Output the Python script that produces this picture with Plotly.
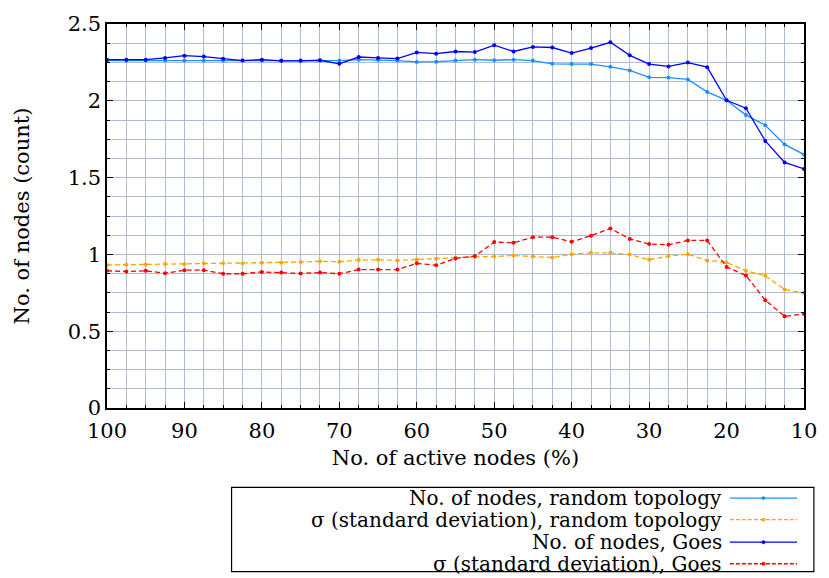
import plotly.graph_objects as go

# Share of active nodes (%) from 100 down to 10 in 2.5 % steps
active_pct = [100 - 2.5 * i for i in range(37)]

nodes_random = [2.262, 2.262, 2.262, 2.263, 2.262, 2.263, 2.262, 2.262, 2.263, 2.262,
                2.262, 2.263, 2.262, 2.268, 2.266, 2.262, 2.253, 2.255, 2.262, 2.268,
                2.264, 2.268, 2.262, 2.241, 2.239, 2.239, 2.221, 2.198, 2.153, 2.151,
                2.139, 2.058, 2.003, 1.907, 1.841, 1.716, 1.650]

sigma_random = [0.931, 0.933, 0.935, 0.938, 0.938, 0.942, 0.942, 0.942, 0.946, 0.946,
                0.950, 0.955, 0.952, 0.963, 0.965, 0.961, 0.967, 0.971, 0.978, 0.984,
                0.986, 0.993, 0.986, 0.980, 1.001, 1.010, 1.010, 0.999, 0.965, 0.989,
                1.001, 0.961, 0.948, 0.893, 0.861, 0.772, 0.748]

nodes_goes = [2.268, 2.268, 2.268, 2.279, 2.294, 2.288, 2.273, 2.262, 2.268, 2.260,
              2.260, 2.264, 2.241, 2.285, 2.279, 2.275, 2.315, 2.307, 2.321, 2.317,
              2.362, 2.321, 2.351, 2.347, 2.311, 2.343, 2.381, 2.296, 2.239, 2.224,
              2.249, 2.219, 2.003, 1.952, 1.739, 1.599, 1.556]

sigma_goes = [0.893, 0.889, 0.893, 0.878, 0.897, 0.897, 0.874, 0.874, 0.886, 0.882,
              0.876, 0.882, 0.874, 0.901, 0.901, 0.901, 0.942, 0.929, 0.974, 0.989,
              1.080, 1.076, 1.112, 1.112, 1.082, 1.122, 1.169, 1.101, 1.067, 1.063,
              1.091, 1.091, 0.918, 0.863, 0.702, 0.597, 0.612]

series_names = [
    "No. of nodes, random topology",
    "σ (standard deviation), random topology",
    "No. of nodes, Goes",
    "σ (standard deviation), Goes",
]
series_values = [nodes_random, sigma_random, nodes_goes, sigma_goes]
series_colors = ["#1e90ff", "#ffa500", "#0000ff", "#ff0000"]
series_dash = ["solid", "5px,3px", "solid", "5px,3px"]

FONT = "DejaVu Serif"
FS = 21
LEG_FS = 20
W, H = 829, 578
L, R, T, B = 107, 17, 16, 170
PW, PH = W - L - R, H - T - B

fig = go.Figure()
for name, vals, col, dash in zip(series_names, series_values, series_colors, series_dash):
    fig.add_trace(go.Scatter(
        x=active_pct, y=vals, name=name, mode="lines+markers",
        line=dict(color=col, width=1.3, dash=dash),
        marker=dict(color=col, size=4, symbol="circle"),
        showlegend=False,
    ))


def px_x(p):
    return (p - L) / PW


def px_y(p):
    return (H - B - p) / PH


# Legend box drawn below the plot, text right-aligned with samples on the right
shapes = [dict(type="rect", xref="paper", yref="paper",
               x0=px_x(233), x1=px_x(822), y0=px_y(489), y1=px_y(575),
               line=dict(color="black", width=1.2), fillcolor="white")]
annotations = []
row_y = [500, 522, 545, 567]
for name, col, dash, ry in zip(series_names, series_colors, series_dash, row_y):
    shapes.append(dict(type="line", xref="paper", yref="paper",
                       x0=px_x(737), x1=px_x(805), y0=px_y(ry), y1=px_y(ry),
                       line=dict(color=col, width=1.3, dash="4px,2px" if dash != "solid" else dash)))
    shapes.append(dict(type="circle", xref="paper", yref="paper",
                       x0=px_x(769.5), x1=px_x(772.5), y0=px_y(ry - 1.5), y1=px_y(ry + 1.5),
                       line=dict(color=col, width=1), fillcolor=col))
    annotations.append(dict(text=name, xref="paper", yref="paper",
                            x=px_x(730), y=px_y(ry), xanchor="right", yanchor="middle",
                            showarrow=False, borderpad=0,
                            font=dict(family=FONT, size=LEG_FS, color="black")))

grid_col = "#adbdd4"
axis_common = dict(
    showline=True, linecolor="black", linewidth=1.5, mirror="allticks",
    ticks="inside", ticklen=6, tickcolor="black", tickwidth=1.2,
    showgrid=True, gridcolor=grid_col, gridwidth=1,
    zeroline=False,
    tickfont=dict(family=FONT, size=FS, color="black"),
)

fig.update_xaxes(
    **axis_common,
    range=[100, 10], tick0=10, dtick=10,
    ticklabelstandoff=3,
    minor=dict(dtick=2.5, tick0=10, ticks="inside", ticklen=3, tickcolor="black",
               showgrid=True, gridcolor=grid_col, gridwidth=1),
    title=dict(text="No. of active nodes (%)", font=dict(family=FONT, size=FS, color="black"),
               standoff=8),
)
fig.update_yaxes(
    **axis_common,
    range=[0, 2.5], tick0=0, dtick=0.5,
    minor=dict(dtick=0.125, tick0=0, ticks="inside", ticklen=3, tickcolor="black",
               showgrid=True, gridcolor=grid_col, gridwidth=1),
    title=dict(text="No. of nodes (count)", font=dict(family=FONT, size=FS, color="black"),
               standoff=32),
)

fig.update_layout(
    width=W, height=H, autosize=False,
    margin=dict(l=L, r=R, t=T, b=B, pad=0),
    paper_bgcolor="white", plot_bgcolor="white",
    font=dict(family=FONT, size=FS, color="black"),
    shapes=shapes, annotations=annotations,
)

fig.write_html("out.html")
